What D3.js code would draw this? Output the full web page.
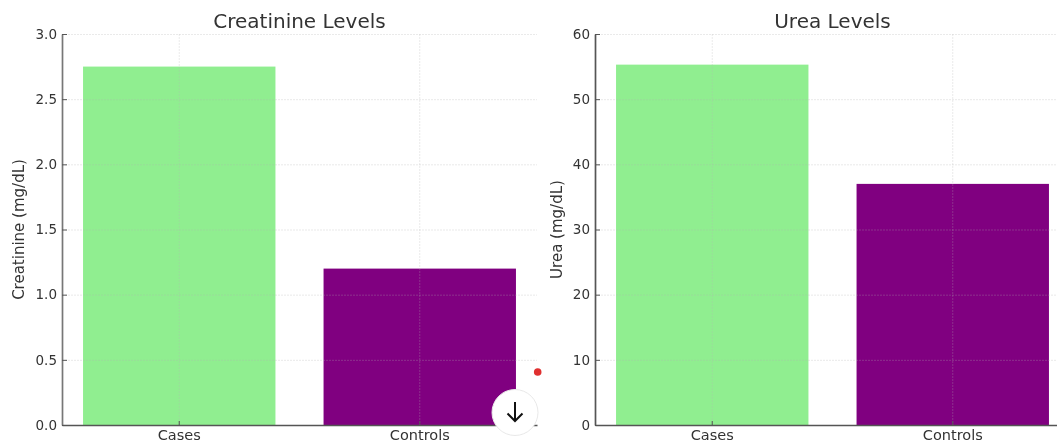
<!DOCTYPE html>
<html><head><meta charset="utf-8">
<script src="https://cdn.jsdelivr.net/npm/d3@7/dist/d3.min.js"></script>
<style>html,body{margin:0;padding:0;background:#fff;overflow:hidden}svg{display:block;filter:blur(0.45px)}text{font-family:"DejaVu Sans",sans-serif;fill:#333}</style>
</head><body><svg id="c" width="1057" height="444"></svg>
<script>
const categories = ["Cases", "Controls"];
const barColors = ["#90ee90", "#800080"];
const creatinineValues = [2.75, 1.2];
const ureaValues = [55.3, 37];
const creatinineTicks = [0, 0.5, 1, 1.5, 2, 2.5, 3];
const ureaTicks = [0, 10, 20, 30, 40, 50, 60];
const svg = d3.select("#c");
function panel(o){
  const top = 34, bottom = 425;
  const x = d3.scaleBand().domain(categories).range([o.left, o.left + 475]).paddingInner(0.2).paddingOuter(0.0875);
  const y = d3.scaleLinear().domain([0, o.max]).range([bottom, top]);
  const g = svg.append("g");
  g.selectAll("rect.bar").data(categories).join("rect").attr("class","bar")
    .attr("x", d => x(d)).attr("width", x.bandwidth())
    .attr("y", (d,i) => y(o.values[i])).attr("height", (d,i) => bottom - y(o.values[i]))
    .attr("fill", (d,i) => barColors[i]);
  const grid = g.append("g").attr("stroke", "#b4b4b4").attr("stroke-opacity", 0.35).attr("stroke-width", 0.8).attr("stroke-dasharray","2 1");
  grid.selectAll("line.h").data(o.ticks.filter(t => t > 0)).join("line").attr("class","h")
    .attr("x1", o.left).attr("x2", o.left + 475).attr("y1", d => y(d) + .5).attr("y2", d => y(d) + .5);
  grid.selectAll("line.v").data(categories).join("line").attr("class","v")
    .attr("x1", d => x(d) + x.bandwidth()/2).attr("x2", d => x(d) + x.bandwidth()/2).attr("y1", top).attr("y2", bottom);
  const ay = g.append("g").attr("transform", `translate(${o.left},0)`)
    .call(d3.axisLeft(y).tickValues(o.ticks).tickFormat(o.fmt).tickSizeInner(-5).tickSizeOuter(0).tickPadding(5));
  ay.select(".domain").attr("stroke", o.spine).attr("stroke-width", 1.7);
  ay.selectAll(".tick line").attr("stroke", "#555");
  ay.selectAll("text").style("font-size", "13.5px").attr("fill", "#333");
  const ax = g.append("g").attr("transform", `translate(0,${bottom})`)
    .call(d3.axisBottom(x).tickSizeInner(-4).tickSizeOuter(0).tickPadding(4.7));
  ax.select(".domain").attr("stroke", "#555").attr("stroke-width", 1.4);
  ax.selectAll(".tick line").attr("stroke", "#555");
  ax.selectAll("text").style("font-size", "14.5px").attr("fill", "#333");
  g.append("text").attr("x", o.left + 237.5).attr("y", 28).attr("text-anchor","middle").style("font-size","20px").text(o.title);
  g.append("text").attr("transform", `translate(${o.labelX},${(top+bottom)/2}) rotate(-90)`)
    .attr("text-anchor","middle").style("font-size","15px").text(o.label);
}
panel({left:62, max:3, values:creatinineValues, ticks:creatinineTicks, fmt:d3.format(".1f"), title:"Creatinine Levels", label:"Creatinine (mg/dL)", labelX:23.5, spine:"#777"});
panel({left:595, max:60, values:ureaValues, ticks:ureaTicks, fmt:d3.format("d"), title:"Urea Levels", label:"Urea (mg/dL)", labelX:561.5, spine:"#555"});
// page overlay
svg.append("circle").attr("cx",537.7).attr("cy",372).attr("r",3.8).attr("fill","#e03030");
svg.append("circle").attr("cx",515).attr("cy",412.5).attr("r",23).attr("fill","#fff").attr("stroke","#e8e8e8");
svg.append("path").attr("d","M515 402V421M507.5 413.5L515 421L522.5 413.5").attr("fill","none").attr("stroke","#111").attr("stroke-width",2);
</script></body></html>
